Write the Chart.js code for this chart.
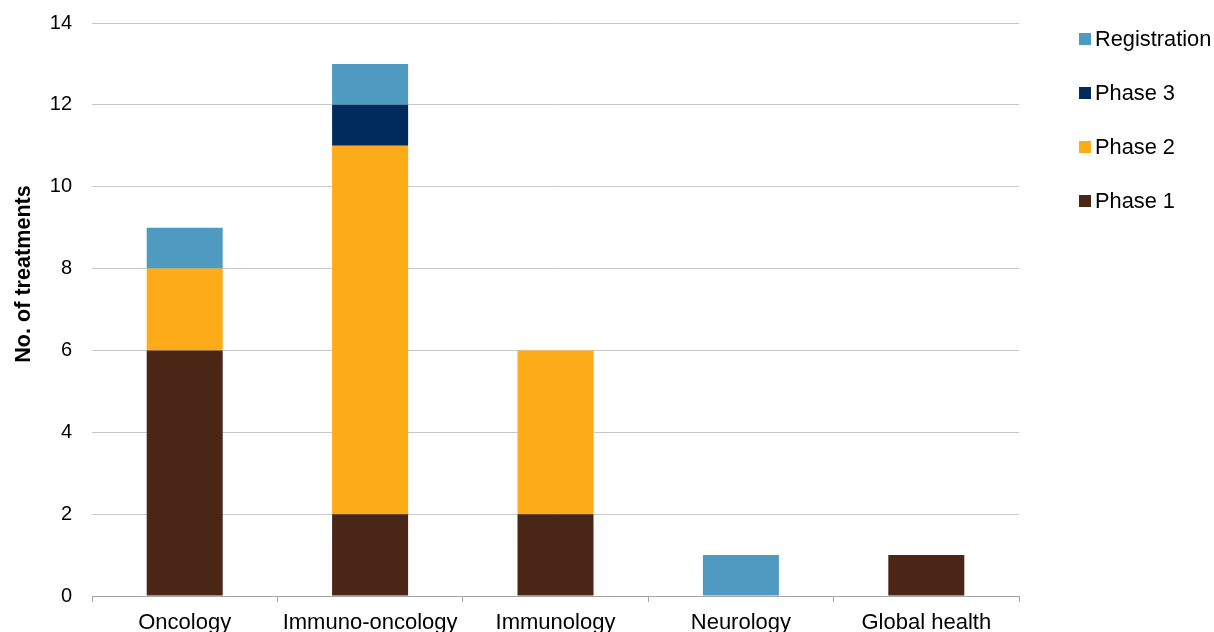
<!DOCTYPE html>
<html><head><meta charset="utf-8">
<script src="https://cdn.jsdelivr.net/npm/chart.js@4/dist/chart.umd.min.js"></script>
<style>html,body{margin:0;padding:0;background:#fff}#wrap{width:1214px;height:632px;position:relative}</style>
</head><body><div id="wrap"><canvas id="c"></canvas></div>
<script>
// Pipeline treatments by therapeutic area and development phase
const categories = ['Oncology', 'Immuno-oncology', 'Immunology', 'Neurology', 'Global health'];
const phase1 = [6, 2, 2, 0, 1];
const phase2 = [2, 9, 4, 0, 0];
const phase3 = [0, 1, 0, 0, 0];
const registration = [1, 1, 0, 1, 0];
const yTicks = [0, 2, 4, 6, 8, 10, 12, 14];
const seriesNames = ['Phase 1', 'Phase 2', 'Phase 3', 'Registration'];
const seriesColors = ['#4a2616', '#fdab19', '#002b5c', '#4f9ac1'];
const axisTitle = 'No. of treatments';

const FONT = "'Liberation Sans', Arial, sans-serif";
const seriesValues = [phase1, phase2, phase3, registration];

// Legend on the right (top-most series first) and rotated y-axis title
const sideDecor = {
  id: 'sideDecor',
  afterDraw(chart) {
    const ctx = chart.ctx;
    const area = chart.chartArea;
    ctx.save();
    ctx.font = '21.8px ' + FONT;
    ctx.textBaseline = 'middle';
    ctx.textAlign = 'left';
    const order = chart.data.datasets.map((d, i) => i).reverse();
    order.forEach((di, k) => {
      const ds = chart.data.datasets[di];
      const cy = 39 + k * 54;
      ctx.fillStyle = ds.backgroundColor;
      ctx.fillRect(area.right + 60, cy - 6, 12, 12);
      ctx.fillStyle = '#000';
      ctx.fillText(ds.label, area.right + 76, cy + 1);
    });
    ctx.translate(24, 274);
    ctx.rotate(-Math.PI / 2);
    ctx.font = 'bold 21.6px ' + FONT;
    ctx.textAlign = 'center';
    ctx.fillText(axisTitle, 0, 0);
    ctx.restore();
  }
};

new Chart(document.getElementById('c'), {
  type: 'bar',
  data: {
    labels: categories,
    datasets: seriesNames.map((name, i) => ({
      label: name,
      data: seriesValues[i],
      backgroundColor: seriesColors[i],
      borderWidth: 0,
      barPercentage: 0.41,
      categoryPercentage: 1
    }))
  },
  options: {
    responsive: true,
    maintainAspectRatio: false,
    animation: false,
    layout: { padding: { top: 23, right: 195, left: 0, bottom: 0 } },
    plugins: { legend: { display: false }, tooltip: { enabled: false } },
    scales: {
      x: {
        stacked: true,
        grid: { drawOnChartArea: false, drawTicks: true, tickLength: 6, offset: true, color: '#a6a6a6' },
        border: { display: true, color: '#a6a6a6', width: 1 },
        ticks: { color: '#000', font: { family: FONT, size: 22 }, padding: 8, maxRotation: 0, autoSkip: false },
        afterFit(s) { s.height = 36; }
      },
      y: {
        stacked: true,
        min: 0, max: 14,
        afterBuildTicks(s) { s.ticks = yTicks.map(v => ({ value: v })); },
        grid: { drawTicks: true, tickLength: 20, tickColor: 'rgba(0,0,0,0)', color: '#c8c8c8' },
        border: { display: false },
        ticks: { color: '#000', font: { family: FONT, size: 20 }, padding: 0 },
        afterFit(s) { s.width = 92; }
      }
    }
  },
  plugins: [sideDecor]
});
</script></body></html>
